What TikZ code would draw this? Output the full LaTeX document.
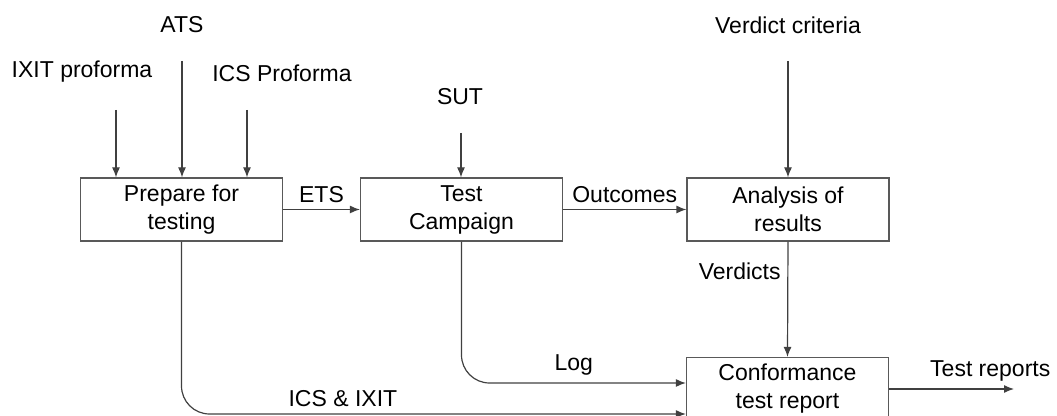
\documentclass[tikz,border=0pt]{standalone}
\usepackage{fontspec}
\setmainfont{Liberation Sans}
\usepackage{tikz}
\usetikzlibrary{arrows.meta,positioning,calc}

\tikzset{
    proc/.style={draw=black!65, line width=0.6pt, minimum width=101pt, minimum height=31.5pt, align=center, inner sep=2pt},
    lbl/.style={inner sep=1pt},
    flow/.style={draw=black!75, line width=0.6pt, -{Latex[length=5pt,width=4pt]}}
}

\begin{document}
\begin{tikzpicture}[x=0.5pt, y=-0.5pt, font=\fontsize{11.5}{14}\selectfont]
    \useasboundingbox (0,0) rectangle (1057,416);

    % Process boxes
    \node[proc] (prep) at (181.5,209.5) {Prepare for\\testing};
    \node[proc] (camp) at (461.5,209.5) {Test\\Campaign};
    \node[proc] (anal) at (788,209.5) {Analysis of\\results};
    \node[proc] (conf) at (787.5,389) {Conformance\\test report};

    % Inputs from above
    \node[lbl] (ats) at (182,25) {ATS};
    \node[lbl] (ixit) at (82,72) {IXIT proforma};
    \node[lbl] (icsp) at (282,73) {ICS Proforma};
    \node[lbl] (sut) at (460,97) {SUT};
    \node[lbl] (vcrit) at (788,25) {Verdict criteria};

    \coordinate (ixitin) at (116,110);
    \coordinate (atsin) at (182,61);
    \coordinate (icsin) at (247,110);
    \coordinate (sutin) at (461,133);
    \coordinate (vcritin) at (788,61);

    \draw[flow] (ixitin) -- (ixitin |- prep.north);
    \draw[flow] (atsin) -- (atsin |- prep.north);
    \draw[flow] (icsin) -- (icsin |- prep.north);
    \draw[flow] (sutin) -- (sutin |- camp.north);
    \draw[flow] (vcritin) -- (vcritin |- anal.north);

    % Main chain
    \draw[flow] (prep.east) -- node[above] {ETS} (camp.west);
    \draw[flow] (camp.east) -- node[above] {Outcomes} (anal.west);
    \draw[flow] (anal.south) -- node[left, pos=0.26] {Verdicts} (conf.north);

    % Output
    \coordinate (repout) at (1014,389);
    \draw[flow] (conf.east) -- node[above, pos=0.81] {Test reports} (repout);

    % Side feeds into the report
    \draw[flow, rounded corners=14pt] (camp.south) |- node[above, pos=0.75] {Log} ([yshift=3pt]conf.west);
    \draw[flow, rounded corners=14pt] (prep.south) |- node[above, pos=0.66] {ICS \& IXIT} ([yshift=-12.5pt]conf.west);
\end{tikzpicture}
\end{document}
